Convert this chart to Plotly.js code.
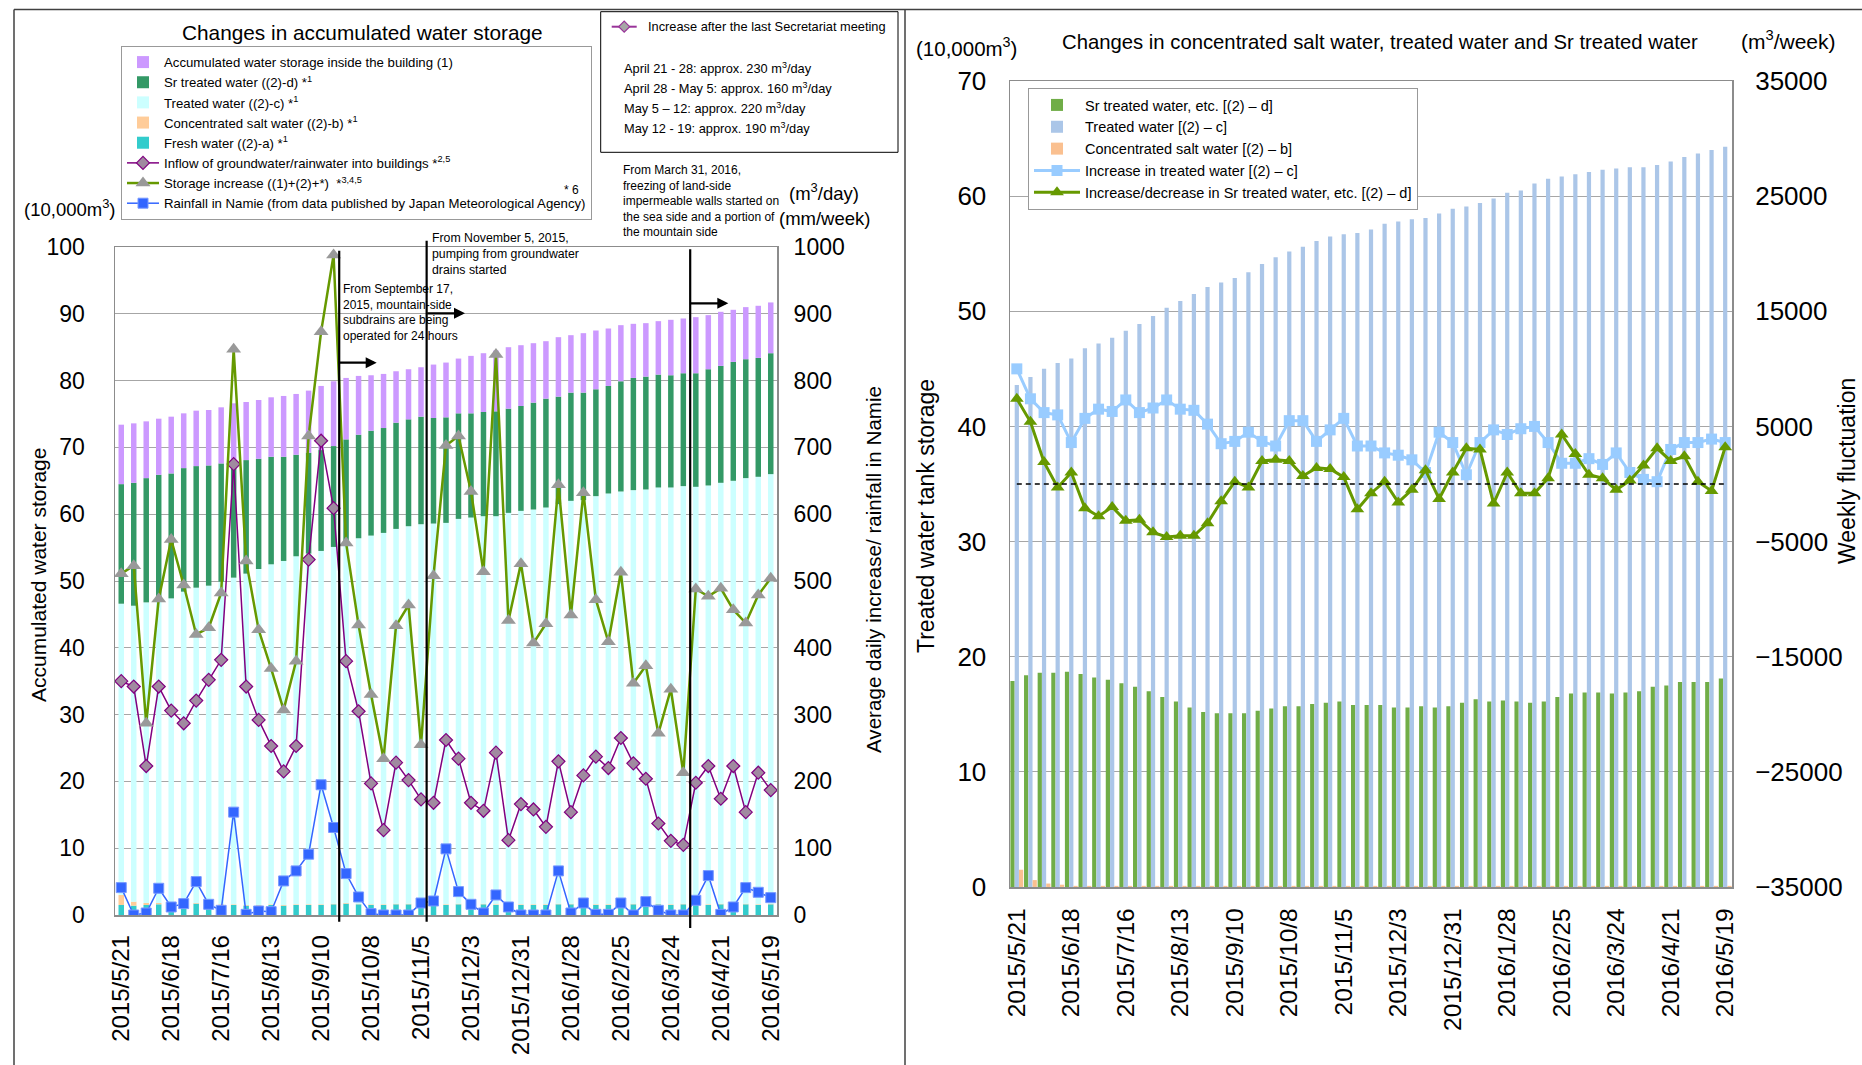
<!DOCTYPE html>
<html><head><meta charset="utf-8">
<script src="https://cdn.plot.ly/plotly-3.0.1.min.js"></script>
<style>html,body{margin:0;padding:0;background:#fff;}#chart{width:1862px;height:1065px;}</style>
</head><body><div id="chart"></div>
<script>
// ---------- data ----------
const dates = ['2015/5/21','2015/5/28','2015/6/4','2015/6/11','2015/6/18','2015/6/25','2015/7/2','2015/7/9','2015/7/16','2015/7/23','2015/7/30','2015/8/6','2015/8/13','2015/8/20','2015/8/27','2015/9/3','2015/9/10','2015/9/17','2015/9/24','2015/10/1','2015/10/8','2015/10/15','2015/10/22','2015/10/29','2015/11/5','2015/11/12','2015/11/19','2015/11/26','2015/12/3','2015/12/10','2015/12/17','2015/12/24','2015/12/31','2016/1/7','2016/1/14','2016/1/21','2016/1/28','2016/2/4','2016/2/11','2016/2/18','2016/2/25','2016/3/3','2016/3/10','2016/3/17','2016/3/24','2016/3/31','2016/4/7','2016/4/14','2016/4/21','2016/4/28','2016/5/5','2016/5/12','2016/5/19'];
const tickDates = ['2015/5/21','2015/6/18','2015/7/16','2015/8/13','2015/9/10','2015/10/8','2015/11/5','2015/12/3','2015/12/31','2016/1/28','2016/2/25','2016/3/24','2016/4/21','2016/5/19'];

// storage (10,000 m3)
const freshWater = [1.5,1.4,1.5,1.6,1.4,1.5,1.7,1.5,1.5,1.5,1.4,1.4,1.5,1.4,1.5,1.5,1.5,1.6,1.7,1.6,1.5,1.5,1.6,1.6,1.7,1.7,1.5,1.6,1.6,1.6,1.5,1.6,1.5,1.5,1.5,1.6,1.6,1.5,1.5,1.5,1.6,1.6,1.5,1.6,1.5,1.6,1.5,1.5,1.6,1.5,1.6,1.5,1.6];
const concSalt = [1.5,0.6,0.3,0.2,0.1,0.1,0.1,0.1,0.1,0.1,0.1,0.1,0.1,0.1,0.1,0.1,0.1,0.1,0.1,0.1,0.1,0.1,0.1,0.1,0.1,0.1,0.1,0.1,0.1,0.1,0.1,0.1,0.1,0.1,0.1,0.1,0.1,0.1,0.1,0.1,0.1,0.1,0.1,0.1,0.1,0.1,0.1,0.1,0.1,0.1,0.1,0.1,0.1];
const treatedWater = [43.6,44.3,45.0,45.5,45.9,46.8,47.2,47.7,48.3,48.9,49.6,50.3,50.9,51.5,52.1,52.5,52.9,53.4,54.1,54.7,55.2,55.6,56.1,56.5,56.7,56.8,57.1,57.6,57.8,58.0,58.1,58.5,58.9,59.1,59.4,59.8,60.3,60.5,61.1,61.5,61.7,61.9,62.1,62.3,62.4,62.5,62.5,62.7,63.0,63.4,63.7,64.0,64.3];
const srTreated = [17.9,18.4,18.6,18.6,18.7,18.5,18.2,18.0,17.7,17.4,17.0,16.5,16.1,15.6,15.2,15.1,15.1,15.1,15.3,15.5,15.7,15.7,15.9,16.0,16.1,15.8,15.8,15.8,15.6,15.6,15.7,15.6,15.7,16.0,16.3,16.1,16.2,16.1,16.0,16.1,16.5,16.8,16.9,16.9,16.8,16.9,17.0,17.4,17.5,17.8,17.8,17.8,18.1];
const buildingWater = [8.9,8.9,8.5,8.4,8.5,8.2,8.3,8.3,8.4,8.7,8.7,8.8,8.9,9.1,9.1,9.3,9.6,9.7,9.2,8.8,8.3,8.1,7.7,7.5,7.4,8.0,8.2,8.2,8.6,8.8,9.1,9.2,9.1,8.9,8.6,8.9,8.6,8.9,8.8,8.6,8.4,8.1,8.0,8.0,8.3,8.2,8.4,8.1,8.1,7.8,7.8,7.8,7.6];

// left chart, right axis (m3/day, mm/week)
const inflow = [350,342,223,342,306,287,321,352,382,675,342,292,253,215,253,532,710,609,380,305,197,127,228,202,173,168,262,234,168,156,243,112,166,158,132,230,154,209,237,220,265,227,204,137,111,105,198,223,174,223,154,213,187];
const storageIncrease = [511,523,287,473,562,494,420,430,482,847,530,427,369,307,380,717,873,988,557,434,330,234,433,464,255,508,703,717,634,514,839,441,526,407,436,644,449,632,472,409,513,347,373,272,338,213,488,477,489,457,437,479,504];
const rainfall = [41,0,3,40,12,17,50,16,7,154,1,6,5,51,66,91,195,131,62,27,2,0,0,0,18,21,99,35,16,3,30,12,0,0,0,66,3,18,1,1,18,0,20,7,0,0,22,59,1,12,41,34,26];

// right chart, right axis (m3/week)
const treatedIncrease = [10000,7400,6200,6000,3600,5700,6500,6300,7300,6200,6600,7300,6500,6400,5200,3500,3700,4500,3700,3300,5500,5500,3700,4700,5700,3300,3300,2700,2500,2100,1000,4500,3600,800,3600,4700,4300,4800,5000,3600,1800,1800,2200,1700,2700,1000,400,200,3000,3600,3600,3900,3600];
const srChange = [7400,5400,1900,-300,1000,-2100,-2800,-2000,-3200,-3100,-4200,-4600,-4500,-4500,-3400,-1500,200,-300,2000,2100,2000,700,1400,1300,600,-2200,-800,200,-1600,-500,1200,-1300,1000,3100,3000,-1700,1000,-800,-800,500,4300,2600,800,500,-500,300,1600,3100,2000,2400,200,-600,3200];
const weeklyTicks = [-35000,-25000,-15000,-5000,5000,15000,25000,35000];
const weeklyTickLabels = ['\u221235000','\u221225000','\u221215000','\u22125000','5000','15000','25000','35000'];

const secretariatLines = ['April 21 - 28: approx. 230 m<sup>3</sup>/day','April 28 - May 5: approx. 160 m<sup>3</sup>/day','May 5 \u2013 12: approx. 220 m<sup>3</sup>/day','May 12 - 19: approx. 190 m<sup>3</sup>/day'];

// ---------- helpers ----------
const W = 1862, H = 1065;
const PX = v => v / W;
const PY = v => 1 - v / H;
const NARROW = 'Liberation Sans Narrow, Arial Narrow, sans-serif';
const SANS = 'Liberation Sans, Arial, sans-serif';
const cum = (...arrs) => arrs[0].map((_, i) => arrs.reduce((s, a) => s + a[i], 0));

const baseConc = freshWater.slice();
const baseTreated = cum(freshWater, concSalt);
const baseSr = cum(freshWater, concSalt, treatedWater);
const baseBuilding = cum(freshWater, concSalt, treatedWater, srTreated);

const LW = 0.44;
function leftBar(name, y, base, color, rank) {
  return {type:'bar', x:dates, y:y, base:base, width:LW, offset:-LW/2, name:name,
    marker:{color:color, line:{width:0}}, xaxis:'x', yaxis:'y', legend:'legend', legendrank:rank, legendgroup:'L' + rank, hoverinfo:'skip'};
}
const RW = 0.31;
function rightBar(name, y, color, off, rank) {
  return {type:'bar', x:dates, y:y, width:RW, offset:off, name:name,
    marker:{color:color, line:{width:0}}, xaxis:'x2', yaxis:'y3', legend:'legend2', legendrank:rank, legendgroup:'R' + rank, hoverinfo:'skip'};
}

const traces = [
  leftBar('Fresh water ((2)-a) *<sup>1</sup>', freshWater, null, '#33CCCC', 5),
  leftBar('Concentrated salt water ((2)-b) *<sup>1</sup>', concSalt, baseConc, '#FFCC99', 4),
  leftBar('Treated water ((2)-c) *<sup>1</sup>', treatedWater, baseTreated, '#CCFFFF', 3),
  leftBar('Sr treated water ((2)-d) *<sup>1</sup>', srTreated, baseSr, '#339966', 2),
  leftBar('Accumulated water storage inside the building (1)', buildingWater, baseBuilding, '#CC99FF', 1),
  {type:'scatter', mode:'lines+markers', x:dates, y:inflow, name:'Inflow of groundwater/rainwater into buildings *<sup>2,5</sup>',
    line:{color:'#800080', width:1.5}, marker:{symbol:'diamond', size:10, color:'#A08AA0', line:{color:'#800080', width:1.2}},
    xaxis:'x', yaxis:'y2', legend:'legend', legendrank:6, legendgroup:'L6', hoverinfo:'skip'},
  {type:'scatter', mode:'lines+markers', x:dates, y:storageIncrease, name:'Storage increase ((1)+(2)+*)  *<sup>3,4,5</sup>',
    line:{color:'#669900', width:2.5}, marker:{symbol:'triangle-up', size:13, color:'#999999'},
    xaxis:'x', yaxis:'y2', legend:'legend', legendrank:7, legendgroup:'L7', hoverinfo:'skip'},
  {type:'scatter', mode:'lines+markers', x:dates, y:rainfall, name:'Rainfall in Namie (from data published by Japan Meteorological Agency)',
    line:{color:'#3366FF', width:1.5}, marker:{symbol:'square', size:10, color:'#3366FF', line:{color:'#7799FF', width:1}},
    xaxis:'x', yaxis:'y2', legend:'legend', legendrank:8, legendgroup:'L8', hoverinfo:'skip'},

  rightBar('Sr treated water, etc. [(2) \u2013 d]', srTreated, '#70AD47', -0.47, 1),
  rightBar('Treated water [(2) \u2013 c]', treatedWater, '#ABC6E8', -0.155, 2),
  rightBar('Concentrated salt water [(2) \u2013 b]', concSalt, '#FAC090', 0.16, 3),
  {type:'scatter', mode:'lines+markers', x:dates, y:treatedIncrease, name:'Increase in treated water [(2) \u2013 c]',
    line:{color:'#99CCFF', width:3}, marker:{symbol:'square', size:11, color:'#99CCFF'},
    xaxis:'x2', yaxis:'y4', legend:'legend2', legendrank:4, legendgroup:'R4', hoverinfo:'skip'},
  {type:'scatter', mode:'lines+markers', x:dates, y:srChange, name:'Increase/decrease in Sr treated water, etc. [(2) \u2013 d]',
    line:{color:'#669900', width:3}, marker:{symbol:'triangle-up', size:12, color:'#669900'},
    xaxis:'x2', yaxis:'y4', legend:'legend2', legendrank:5, legendgroup:'R5', hoverinfo:'skip'}
];

const hidden = 'rgba(0,0,0,0)';
const xCommon = {type:'category', range:[-0.5, dates.length - 0.5], tickvals:tickDates, ticktext:tickDates, tickangle:-90,
  ticks:'outside', tickcolor:hidden, tickfont:{family:SANS, size:24, color:'#000'}, showline:true, linecolor:'#8c8c8c', linewidth:1.5,
  mirror:true, showgrid:false, zeroline:false, fixedrange:true};
const yTickFont = {family:SANS, size:23, color:'#000'};

const iSep = dates.indexOf('2015/9/17') + 0.45;
const iNov = dates.indexOf('2015/11/5') + 0.45;
const iMar = dates.indexOf('2016/3/31') + 0.55;

// small diamond symbol of the Secretariat box (paper coords built from pixels)
const dcx = 624.2, dcy = 26.7, dr = 5.5;
const diamondPath = 'M ' + PX(dcx - dr) + ' ' + PY(dcy) + ' L ' + PX(dcx) + ' ' + PY(dcy - dr) + ' L ' + PX(dcx + dr) + ' ' + PY(dcy) +
  ' L ' + PX(dcx) + ' ' + PY(dcy + dr) + ' Z';

const frame = {color:'#404040', width:1.5};
const shapes = [
  {type:'line', xref:'paper', yref:'paper', x0:PX(14), x1:1, y0:PY(9.5), y1:PY(9.5), line:frame},
  {type:'line', xref:'paper', yref:'paper', x0:PX(14), x1:PX(14), y0:PY(9.5), y1:0, line:frame},
  {type:'line', xref:'paper', yref:'paper', x0:PX(905), x1:PX(905), y0:PY(9.5), y1:0, line:frame},
  {type:'line', xref:'x', yref:'paper', x0:iSep, x1:iSep, y0:PY(250.7), y1:PY(921.7), line:{color:'#000', width:2.2}},
  {type:'line', xref:'x', yref:'paper', x0:iNov, x1:iNov, y0:PY(240.7), y1:PY(921.7), line:{color:'#000', width:2.2}},
  {type:'line', xref:'x', yref:'paper', x0:iMar, x1:iMar, y0:PY(249.3), y1:PY(928), line:{color:'#000', width:2.2}},
  {type:'rect', xref:'paper', yref:'paper', x0:PX(600.7), x1:PX(898), y0:PY(11.7), y1:PY(152.3), line:{color:'#000', width:1}, fillcolor:'#fff'},
  {type:'line', xref:'paper', yref:'paper', x0:PX(611.7), x1:PX(636.7), y0:PY(26.7), y1:PY(26.7), line:{color:'#993399', width:2}},
  {type:'path', xref:'paper', yref:'paper', path:diamondPath, fillcolor:'#A6A6A6', line:{color:'#993399', width:1.2}},
  {type:'line', xref:'x2', yref:'y4', x0:0, x1:dates.length - 1, y0:0, y1:0, line:{color:'#000', width:1.5, dash:'5px,4px'}}
];

function txt(text, x, y, size, opts) {
  return Object.assign({text:text, xref:'paper', yref:'paper', x:PX(x), y:PY(y), showarrow:false,
    xanchor:'center', yanchor:'middle', font:{family:NARROW, size:size, color:'#000'}}, opts || {});
}
function arrow(xTail, xHead, y) {
  return {text:'', xref:'paper', yref:'paper', x:PX(xHead), y:PY(y), ax:xTail - xHead, ay:0, axref:'pixel', ayref:'pixel',
    showarrow:true, arrowhead:2, arrowsize:1, arrowwidth:2.2, arrowcolor:'#000'};
}

const annotations = [
  txt('Changes in accumulated water storage', 362, 32, 20.8),
  txt('(10,000m<sup>3</sup>)', 70, 208, 18.5),
  txt('(m<sup>3</sup>/day)', 824, 192, 18.5),
  txt('(mm/week)', 824, 218.5, 18.5),
  txt('* 6', 571, 190, 12),
  txt('From September 17,<br>2015, mountain-side<br>subdrains are being<br>operated for 24 hours', 340.7, 312.2, 12, {xanchor:'left', align:'left'}),
  txt('From November 5, 2015,<br>pumping from groundwater<br>drains started', 430, 253.5, 12.3, {xanchor:'left', align:'left'}),
  txt('From March 31, 2016,<br>freezing of land-side<br>impermeable walls started on<br>the sea side and a portion of<br>the mountain side', 620.7, 201, 12, {xanchor:'left', align:'left'}),
  txt('Increase after the last Secretariat meeting', 646, 26.7, 12.8, {xanchor:'left'}),
  txt(secretariatLines[0], 622.3, 67.7, 12.8, {xanchor:'left'}),
  txt(secretariatLines[1], 622.3, 88, 12.8, {xanchor:'left'}),
  txt(secretariatLines[2], 622.3, 107.7, 12.8, {xanchor:'left'}),
  txt(secretariatLines[3], 622.3, 127.7, 12.8, {xanchor:'left'}),
  arrow(338.3, 376.7, 362.7),
  arrow(425.7, 465, 313.3),
  arrow(689, 728.3, 303.3),
  txt('Accumulated water storage', 38, 575, 21, {textangle:-90}),
  txt('Average daily increase/ rainfall in Namie', 873, 570, 20.6, {textangle:-90}),
  txt('Changes in concentrated salt water, treated water and Sr treated water', 1379.5, 42, 20.3),
  txt('(10,000m<sup>3</sup>)', 967, 46.7, 20.5),
  txt('(m<sup>3</sup>/week)', 1788, 40, 21),
  txt('Treated water tank storage', 926, 516, 23, {textangle:-90}),
  txt('Weekly fluctuation', 1847, 471, 23, {textangle:-90})
];

const layout = {
  width:W, height:H, margin:{l:0, r:0, t:0, b:0}, paper_bgcolor:'#fff', plot_bgcolor:'#fff',
  barmode:'overlay', showlegend:true, hovermode:false,
  font:{family:NARROW, size:14, color:'#000'},
  xaxis: Object.assign({}, xCommon, {domain:[PX(115), PX(777)], anchor:'y', ticklen:9}),
  yaxis: {domain:[PY(915), PY(247)], anchor:'x', range:[0,100], tick0:0, dtick:10, showgrid:true, gridcolor:'#a6a6a6', gridwidth:1,
    showline:true, linecolor:'#8c8c8c', linewidth:1.5, mirror:true, zeroline:false, ticks:'outside', ticklen:24, tickcolor:hidden,
    tickfont:yTickFont, fixedrange:true},
  yaxis2: {overlaying:'y', side:'right', anchor:'x', range:[0,1000], tick0:0, dtick:100, showgrid:false, zeroline:false,
    showline:false, ticks:'outside', ticklen:11, tickcolor:hidden, tickfont:yTickFont, fixedrange:true},
  xaxis2: Object.assign({}, xCommon, {domain:[PX(1010), PX(1732)], anchor:'y3', ticklen:10, tickfont:{family:SANS, size:24.5, color:'#000'}}),
  yaxis3: {domain:[PY(887), PY(81)], anchor:'x2', range:[0,70], tick0:0, dtick:10, showgrid:true, gridcolor:'#a6a6a6', gridwidth:1,
    showline:true, linecolor:'#8c8c8c', linewidth:1.5, mirror:true, zeroline:false, ticks:'outside', ticklen:17, tickcolor:hidden,
    tickfont:{family:SANS, size:26, color:'#000'}, fixedrange:true},
  yaxis4: {overlaying:'y3', side:'right', anchor:'x2', range:[-35000,35000], tickvals:weeklyTicks, ticktext:weeklyTickLabels,
    showgrid:false, zeroline:false, showline:false, ticks:'outside', ticklen:17, tickcolor:hidden, tickfont:{family:SANS, size:26, color:'#000'}, fixedrange:true},
  legend: {x:PX(121), y:PY(46), xanchor:'left', yanchor:'top', bgcolor:'#fff', bordercolor:'#999', borderwidth:1,
    font:{family:NARROW, size:13.2, color:'#000'}, itemwidth:32, traceorder:'normal', tracegroupgap:1.5, itemclick:false, itemdoubleclick:false},
  legend2: {x:PX(1028), y:PY(88), xanchor:'left', yanchor:'top', bgcolor:'#fff', bordercolor:'#999', borderwidth:1,
    font:{family:NARROW, size:14.5, color:'#000'}, itemwidth:46, traceorder:'normal', tracegroupgap:3, itemclick:false, itemdoubleclick:false},
  shapes:shapes,
  annotations:annotations
};

Plotly.newPlot('chart', traces, layout, {displayModeBar:false, staticPlot:true});
</script></body></html>
